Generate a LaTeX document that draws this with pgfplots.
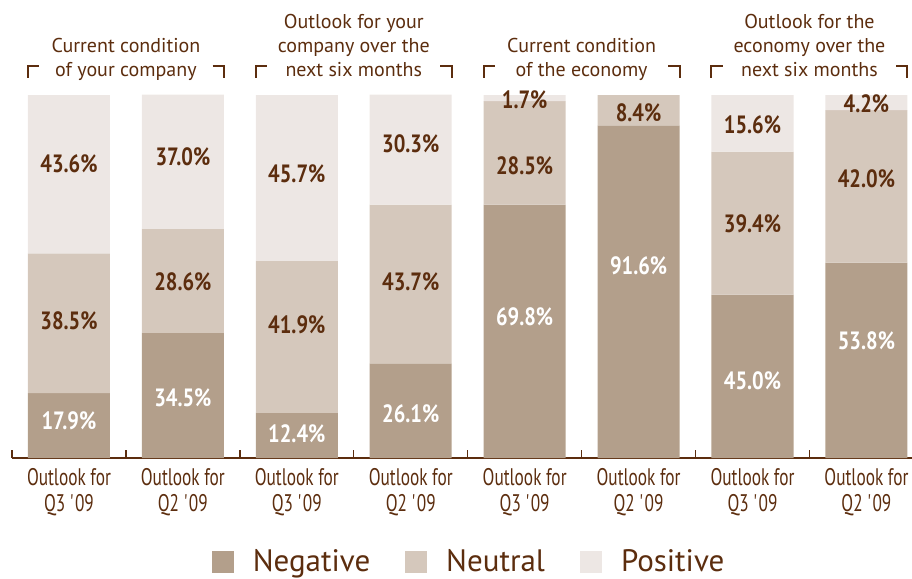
\documentclass[border=0pt]{standalone}
\usepackage{fontspec}
\setmainfont{PT Sans}
\newfontfamily\cond[FakeStretch=0.72]{PT Sans}
\newfontfamily\condb[FakeStretch=0.82]{PT Sans Bold}
\usepackage{pgfplots}
\usepackage{pgfplotstable}
\pgfplotsset{compat=1.18}
\definecolor{neg}{RGB}{179,159,139}
\definecolor{neu}{RGB}{213,200,188}
\definecolor{pos}{RGB}{237,231,228}
\definecolor{txt}{RGB}{92,45,14}

% shares per bar (negative, neutral, positive)
\pgfplotstableread{
x neg  neu  pos
0 17.9 38.5 43.6
1 34.5 28.6 37.0
2 12.4 41.9 45.7
3 26.1 43.7 30.3
4 69.8 28.5 1.7
5 91.6 8.4  0
6 45.0 39.4 15.6
7 53.8 42.0 4.2
}\bars

% where the value labels sit
\pgfplotstableread{
x y    v
0 10.3 17.9
1 16.7 34.5
2 6.7  12.4
3 12.2 26.1
4 38.8 69.8
5 52.9 91.6
6 21.4 45.0
7 32.4 53.8
}\neglabels

\pgfplotstableread{
x y    v
0 37.7 38.5
0 81.1 43.6
1 48.6 28.6
1 82.9 37.0
2 36.6 41.9
2 78.3 45.7
3 48.6 43.7
3 86.6 30.3
4 80.5 28.5
4 98.8 1.7
5 95.1 8.4
6 64.5 39.4
6 91.7 15.6
7 76.9 42.0
7 97.5 4.2
}\otherlabels

\begin{document}
\begin{tikzpicture}
\path[use as bounding box] (0,0) rectangle (456pt,289.5pt);
\begin{axis}[
    at={(6pt,60.5pt)}, anchor=south west,
    scale only axis, width=450pt, height=181.5pt,
    xmin=-0.5, xmax=7.4, ymin=0, ymax=100,
    clip=false,
    axis x line=bottom, axis y line=none,
    x axis line style={-, draw=txt, line width=0.75pt},
    xtick={0,...,7},
    xticklabels={{Outlook for\\Q3 \textquotesingle09},{Outlook for\\Q2 \textquotesingle09},
                 {Outlook for\\Q3 \textquotesingle09},{Outlook for\\Q2 \textquotesingle09},
                 {Outlook for\\Q3 \textquotesingle09},{Outlook for\\Q2 \textquotesingle09},
                 {Outlook for\\Q3 \textquotesingle09},{Outlook for\\Q2 \textquotesingle09}},
    major tick length=0pt,
    x tick label style={font=\cond\fontsize{12}{13}\selectfont, text=txt, align=center, inner sep=0pt, yshift=-5pt},
    extra x ticks={-0.5,0.5,...,6.5},
    extra x tick labels={},
    extra x tick style={major tick length=4pt, tick align=inside, tick style={draw=txt, line width=0.7pt}},
    /pgf/number format/assume math mode=true,
    legend style={at={(0.509,-0.287)}, anchor=center, draw=none, fill=none,
        legend columns=3, font=\fontsize{15.5}{18}\selectfont, text=txt,
        /tikz/every odd column/.append style={column sep=7.5pt},
        /tikz/every even column/.append style={column sep=15.5pt}},
    segment/.style={ybar stacked, bar width=0.72, draw=none,
        legend image code/.code={\fill[##1] (0pt,-5.5pt) rectangle (11pt,5.5pt);}},
    lbl/.style={forget plot, only marks, mark=none, point meta=explicit,
        nodes near coords={\pgfmathprintnumber[fixed,fixed zerofill,precision=1]{\pgfplotspointmeta}\%},
        every node near coord/.append style={anchor=center, font=\condb\fontsize{12.5}{14}\selectfont}},
]
\addplot[segment, fill=neg] table[x=x,y=neg]{\bars};
\addplot[segment, fill=neu] table[x=x,y=neu]{\bars};
\addplot[segment, fill=pos] table[x=x,y=pos]{\bars};
\legend{Negative,Neutral,Positive}

\addplot[lbl, stack plots=false, every node near coord/.append style={text=white}]
    table[x=x,y=y,meta=v]{\neglabels};
\addplot[lbl, stack plots=false, every node near coord/.append style={text=txt}]
    table[x=x,y=y,meta=v]{\otherlabels};

% group headers
\tikzset{hdr/.style={anchor=south, align=center, text depth=0pt, inner sep=0pt, text=txt, font=\fontsize{10}{12}\selectfont}}
\node[hdr] at (axis cs:0.5,105) {Current condition\\of your company};
\node[hdr] at (axis cs:2.5,105) {Outlook for your\\company over the\\next six months};
\node[hdr] at (axis cs:4.5,105) {Current condition\\of the economy};
\node[hdr] at (axis cs:6.5,105) {Outlook for the\\economy over the\\next six months};
\tikzset{brk/.style={draw=txt, line width=1pt}}
\draw[brk] (axis cs:-0.36,104.7) |- (axis cs:-0.26,108);
\draw[brk] (axis cs:1.26,108) -| (axis cs:1.36,104.7);
\draw[brk] (axis cs:1.64,104.7) |- (axis cs:1.74,108);
\draw[brk] (axis cs:3.26,108) -| (axis cs:3.36,104.7);
\draw[brk] (axis cs:3.64,104.7) |- (axis cs:3.74,108);
\draw[brk] (axis cs:5.26,108) -| (axis cs:5.36,104.7);
\draw[brk] (axis cs:5.64,104.7) |- (axis cs:5.74,108);
\draw[brk] (axis cs:7.26,108) -| (axis cs:7.36,104.7);
\end{axis}
\end{tikzpicture}
\end{document}
